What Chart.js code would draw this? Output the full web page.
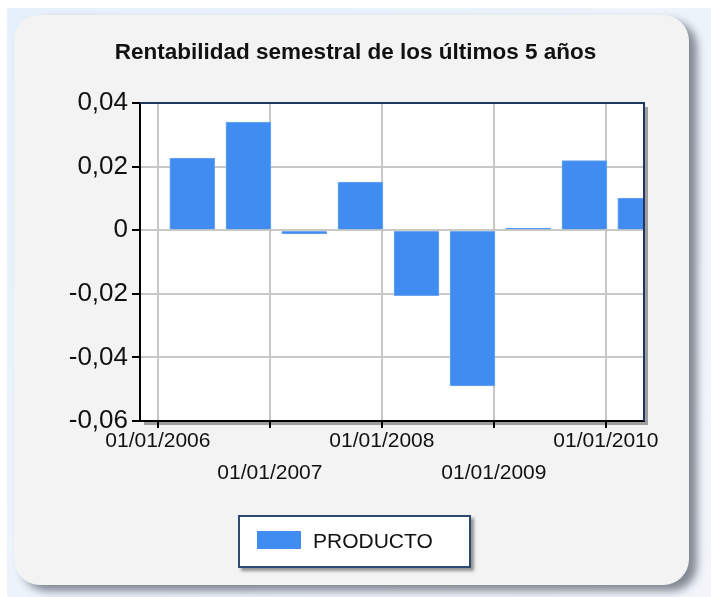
<!DOCTYPE html>
<html lang="es">
<head>
<meta charset="utf-8">
<script src="https://cdn.jsdelivr.net/npm/chart.js@4.4.1/dist/chart.umd.min.js"></script>
<style>
  html, body { margin: 0; padding: 0; }
  body {
    width: 711px; height: 597px; overflow: hidden; position: relative;
    background: #ffffff;
    font-family: "Liberation Sans", Arial, sans-serif;
  }
  .marco {
    position: absolute; left: 7px; top: 8px; right: 0; bottom: 0;
    background: linear-gradient(135deg, #e6f0fb 0%, #eef4fb 60%, #f2f6fb 100%);
  }
  .tarjeta {
    position: absolute; left: 14px; top: 15px; width: 675px; height: 570px;
    border-radius: 26px; background: #f3f3f3;
    box-shadow: 8px 6px 8px rgba(70, 78, 92, 0.65);
  }
  #grafico { position: absolute; left: 0; top: 0; }
  .leyenda {
    position: absolute; left: 238px; top: 515px; width: 229px; height: 49px;
    border: 2px solid #2d4a74; background: #fff;
    box-shadow: 3px 3px 3px rgba(0, 0, 0, 0.4);
  }
  .leyenda .muestra {
    position: absolute; left: 17px; top: 14px; width: 44px; height: 18px; background: #418cf0;
  }
  .leyenda .texto {
    position: absolute; left: 73px; top: 12px; font-size: 21px; line-height: 24px; color: #111;
  }
</style>
</head>
<body>
<div class="marco"></div>
<div class="tarjeta"></div>
<canvas id="grafico" width="711" height="597"></canvas>
<div class="leyenda"><span class="muestra"></span><span class="texto">PRODUCTO</span></div>
<script>
// Datos
const titulo = 'Rentabilidad semestral de los últimos 5 años';
const serieNombre = 'PRODUCTO';
const fechas = ['2006-04-23', '2006-10-23', '2007-04-23', '2007-10-23', '2008-04-23',
                '2008-10-23', '2009-04-23', '2009-10-23', '2010-04-23'];
const rentabilidad = [0.0227, 0.034, -0.0012, 0.0151, -0.0206, -0.049, 0.0006, 0.0219, 0.0101];
const anosEje = [2006, 2007, 2008, 2009, 2010];
const yTicks = [-0.06, -0.04, -0.02, 0, 0.02, 0.04];

const AZUL = '#418cf0';

// fecha -> año fraccionario
function anoDecimal(f) {
    const d = new Date(f + 'T00:00:00Z');
    const y = d.getUTCFullYear();
    const ini = Date.UTC(y, 0, 1), fin = Date.UTC(y + 1, 0, 1);
    return y + (d.getTime() - ini) / (fin - ini);
}

const puntos = fechas.map((f, i) => ({ x: anoDecimal(f), y: rentabilidad[i] }));

// Fondo blanco del área con sombra y borde superior/derecho azul oscuro
const areaPlugin = {
    id: 'areaPlot',
    beforeDraw(chart) {
        const { ctx, chartArea: a } = chart;
        ctx.save();
        ctx.fillStyle = 'rgba(0,0,0,0.35)';
        ctx.fillRect(a.left + 4, a.top + 4, a.width, a.height);
        ctx.fillStyle = '#ffffff';
        ctx.fillRect(a.left, a.top, a.width, a.height);
        ctx.restore();
    },
    afterDraw(chart) {
        const { ctx, chartArea: a } = chart;
        ctx.save();
        ctx.strokeStyle = '#1f3760';
        ctx.lineWidth = 2;
        ctx.beginPath();
        ctx.moveTo(a.left, a.top);
        ctx.lineTo(a.right, a.top);
        ctx.lineTo(a.right, a.bottom);
        ctx.stroke();
        ctx.restore();
    }
};

new Chart(document.getElementById('grafico'), {
    type: 'bar',
    data: {
        datasets: [{
            label: serieNombre,
            data: puntos,
            backgroundColor: AZUL,
            borderColor: '#6aa8f5',
            borderWidth: 1,
            barThickness: 45
        }]
    },
    options: {
        responsive: false,
        animation: false,
        // padding simétrico para que el título quede centrado en la tarjeta
        layout: { padding: { top: 0, left: 67, right: 67, bottom: 86 } },
        plugins: {
            legend: { display: false },
            tooltip: { enabled: false },
            title: {
                display: true,
                text: titulo,
                color: '#111',
                font: { family: '"Liberation Sans", Arial, sans-serif', size: 22.5, weight: 'bold' },
                padding: { top: 39.5, bottom: 36.5 }
            }
        },
        scales: {
            x: {
                type: 'linear',
                offset: false,
                min: 2005.84,
                max: 2010.34,
                afterFit(scale) { scale.height = 90; },
                grid: { color: '#c8c8c8', lineWidth: 2, offset: false, tickLength: 7, tickColor: '#000', tickWidth: 2 },
                border: { color: '#000', width: 2 },
                afterBuildTicks(scale) { scale.ticks = anosEje.map(v => ({ value: v })); },
                ticks: {
                    includeBounds: false,
                    autoSkip: false,
                    maxRotation: 0,
                    padding: -3,
                    color: '#111',
                    font: { family: '"Liberation Sans", Arial, sans-serif', size: 21, lineHeight: 1.52 },
                    callback: (v, i) => {
                        const t = '01/01/' + v;
                        return i % 2 === 1 ? ['', t] : t;
                    }
                }
            },
            y: {
                min: -0.06,
                max: 0.04,
                afterFit(scale) { scale.width = 73; },
                afterBuildTicks(scale) { scale.ticks = yTicks.map(v => ({ value: v })); },
                grid: { color: '#c8c8c8', lineWidth: 2, tickLength: 8, tickColor: '#000', tickWidth: 2 },
                border: { color: '#000', width: 2 },
                ticks: {
                    padding: 4,
                    color: '#111',
                    font: { family: '"Liberation Sans", Arial, sans-serif', size: 26 },
                    callback: v => (Math.abs(v) < 1e-9 ? '0' : v.toFixed(2).replace('.', ','))
                }
            }
        }
    },
    plugins: [areaPlugin]
});
</script>
</body>
</html>
